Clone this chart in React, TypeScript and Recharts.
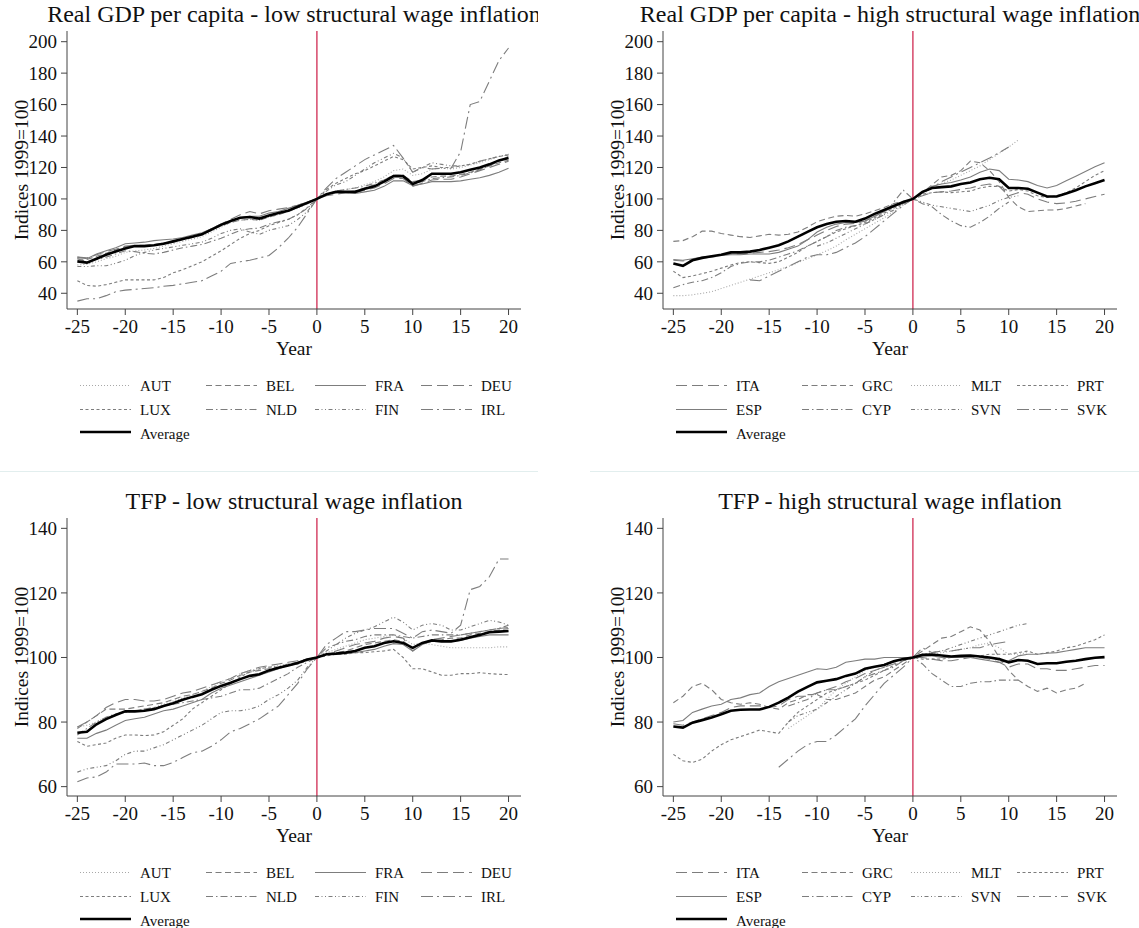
import React from "react"
import { LineChart, Line, XAxis, YAxis, ReferenceLine } from "recharts"

// x categories: years relative to 1999
const years = [
  -25, -24, -23, -22, -21, -20, -19, -18, -17, -16, -15, -14, -13, -12, -11, -10, -9, -8, -7, -6, -5, -4, -3, -2, -1,
  0, 1, 2, 3, 4, 5, 6, 7, 8, 9, 10, 11, 12, 13, 14, 15, 16, 17, 18, 19, 20,
]

const xTicks = [-25, -20, -15, -10, -5, 0, 5, 10, 15, 20]
const gdpTicks = [40, 60, 80, 100, 120, 140, 160, 180, 200]
const tfpTicks = [60, 80, 100, 120, 140]

// ---- Real GDP per capita, low structural wage inflation ----
const gdpLowAUT = [
  58, 58.5, 60, 62, 63.5, 66, 67, 67.5, 68.5, 70, 71.5, 73, 74.5, 76, 79, 82, 85, 86.5, 87, 86.5, 88.5, 90, 92, 94, 97,
  100, 103, 105, 106, 107, 109, 111, 114, 118, 119, 115, 116, 119, 119.5, 119, 120, 121.5, 123, 125, 127, 128.5,
]
const gdpLowBEL = [
  62, 61.5, 63.5, 65.5, 67.5, 69.5, 70, 70, 70.5, 71.5, 72.5, 74, 75.5, 77, 80, 83, 85, 86.5, 87, 86.5, 88.5, 90, 92, 94.5, 97,
  100, 103, 104, 104.5, 105, 107, 109, 112, 115, 115, 111, 112, 114, 114.5, 114.5, 115.5, 117, 119, 121, 123, 124.5,
]
const gdpLowFRA = [
  63, 62, 65, 67, 69, 71.5, 72, 72.5, 73.5, 74, 74.5, 75.5, 77, 78.5, 81, 84, 86, 88, 89, 89, 91, 92, 94, 96, 98,
  100, 102.5, 104, 104, 103.5, 104.5, 105.5, 108, 111.5, 111.5, 108.5, 109.5, 111, 111, 111, 111.5, 112.5, 113.5, 115, 117, 119.5,
]
const gdpLowDEU = [
  63, 62.5, 64.5, 66.5, 68, 70, 70.5, 70.5, 71, 72, 73, 74.5, 76, 78, 81, 84, 87, 90, 92, 90.5, 92.5, 93.5, 94.5, 96, 98,
  100, 102, 103, 104, 104, 105.5, 107, 109.5, 113, 113, 108, 110, 112, 112.5, 112.5, 114, 116, 118, 120, 122, 124,
]
const gdpLowLUX = [
  48, 45, 44.5, 45.5, 47, 48.5, 48.5, 48.5, 48.5, 50, 53, 55, 57.5, 60, 63.5, 67, 71, 75, 78, 80, 83, 85, 87, 90, 94.5,
  100, 106, 110, 113, 116, 118, 121, 124, 127, 125, 119, 120, 121, 120, 120, 121, 122, 124, 125.5, 127, 128,
]
const gdpLowNLD = [
  62, 60, 61.5, 63, 65, 67, 66.5, 65.5, 65, 66, 67.5, 69, 70, 71, 73, 75, 77.5, 80, 81, 81.5, 84, 85.5, 87, 90, 94,
  100, 103, 105, 106, 107, 108, 110, 112, 115, 115, 110, 111, 113, 113.5, 114, 115, 116.5, 118.5, 121, 124, 127,
]
const gdpLowFIN = [
  57, 57, 57.5, 57.5, 59, 61, 64, 66, 67.5, 68.5, 69.5, 70.5, 71.5, 72.5, 75, 78, 80, 81, 79, 77.5, 80, 81.5, 83, 87, 92,
  100, 105, 109, 111, 115, 119, 123, 126, 129, 126, 117, 120, 123, 122, 121, 121, 122, 124, 125.5, 127, 128,
]
const gdpLowIRL = [
  35, 36.5, 36.5, 38.5, 41, 42, 42.5, 43, 43.5, 44.5, 45, 46, 47, 48, 51, 54, 59, 60, 61, 62.5, 64, 69, 75, 82, 91,
  100, 107, 113, 117, 121, 125, 128, 131, 134, 126, 117, 120, 119, 119.5, 119.5, 130, 160, 162, 175, 188, 196,
]
const gdpLowAverage = [
  60.3, 59.5, 62, 64.5, 66.5, 68.5, 70, 70, 70.5, 71.5, 73, 74.5, 76, 77.5, 80.5, 83.5, 86, 88, 88.5, 87.5, 89.5, 91, 92.5, 95, 97.5,
  100, 103, 104.5, 104.5, 104.5, 106.5, 108, 111, 114.5, 114.5, 109.5, 112, 116, 116, 116, 117, 118.5, 120, 122, 124.5, 126,
]

// ---- Real GDP per capita, high structural wage inflation ----
const gdpHighITA = [
  61, 60.5, 61.5, 62.5, 63, 64, 65, 65, 65.5, 66, 66.5, 67.5, 69, 71, 74, 77, 80, 82.5, 84, 84.5, 86, 89, 92, 95, 97.5,
  100, 102, 104, 104.5, 105, 106, 107, 108.5, 109.5, 108, 102, 104, 103, 100, 98, 97, 97.5, 98.5, 100, 101.5, 103,
]
const gdpHighGRC = [
  73, 73.5, 76, 79.5, 79.5, 78, 77, 76, 75.5, 76.5, 77.5, 77, 77.5, 79, 82, 85.5, 87.5, 89, 89.5, 89, 90.5, 92.5, 94.5, 97, 98.5,
  100, 104, 109, 114, 115, 118, 124, 123, 118, 111, 101, 95, 92, 92.5, 93, 93, 94, 95.5, 97, null, null,
]
const gdpHighMLT = [
  38.5, 38.5, 39, 40, 41, 43, 45, 47, 49, 51, 53, 55, 57, 59.5, 62, 64.5, 67, 70, 74, 77.5, 81, 84.5, 88, 92, 96,
  100, 103, 107, 110, 112, 115, 118, 121, 125, 129, 133, 137.5, null, null, null, null, null, null, null, null, null,
]
const gdpHighPRT = [
  54, 50, 51, 52.5, 54, 56, 58, 59.5, 60, 59.5, 59, 60, 63, 66, 70, 73, 76, 79, 81, 83, 85, 88, 91, 94, 97,
  100, 103, 104, 104.5, 104, 104.5, 105, 107, 108, 108, 105, 106, 105, 102, 101, 102, 104, 107, 111, 115, 118,
]
const gdpHighESP = [
  61.5, 61, 62, 63, 63.5, 64, 64.5, 64.5, 65, 65, 65, 66, 68, 70, 74, 79, 82, 84, 85, 85, 86, 89, 92, 95, 97.5,
  100, 104, 108, 109.5, 110.5, 112, 114, 117, 119, 118, 112.5, 112, 111, 108.5, 107, 108.5, 111.5, 114.5, 117.5, 120.5, 123,
]
const gdpHighCYP = [
  43.5, 45.5, 47, 48, 50, 53, 57, 59, 60, 60, 61, 63, 65, 67, 70, 73, 76, 80, 82, 83, 84, 87, 90, 98, 105.5,
  100, 97, 95, 90, 86, 83, 82, 85, 89, 94, 98, null, null, null, null, null, null, null, null, null, null,
]
const gdpHighSVN = [
  null, null, null, null, null, null, null, null, null, null, null, null, null, null, null, 70, 72, 75, 78, 81, 84, 87, 90, 93, 97,
  100, 98, 96, 95, 94, 93, 92, 94, 96, 99, 101, 102, null, null, null, null, null, null, null, null, null,
]
const gdpHighSVK = [
  null, null, null, null, null, null, null, null, 48.5, 48, 51, 54, 57, 60, 63, 64.5, 64.5, 66, 69, 72, 76, 81, 86, 91, 96,
  100, 104, 107, 111, 114, 117, 120, 123, 126, 129.5, 133, null, null, null, null, null, null, null, null, null, null,
]
const gdpHighAverage = [
  59, 57.5, 61, 62.5, 63.5, 64.5, 66, 66, 66.5, 67.5, 69, 70.5, 73, 76, 79, 82, 84, 85.5, 86, 85.5, 87.5, 90.5, 93, 95.5, 98,
  100, 104.5, 107, 107.5, 108, 109.5, 110.5, 112.5, 113.5, 112.5, 107, 107, 106.5, 104, 101.5, 101.5, 103.5, 105.5, 108, 110, 112,
]

// ---- TFP, low structural wage inflation ----
const tfpLowAUT = [
  78.5, 79, 80, 81.5, 82.5, 83, 83.5, 84, 84.5, 85.5, 86.5, 87.5, 88.5, 89.5, 91, 92.5, 93.5, 95, 96, 96.5, 97, 97.5, 98, 98.5, 99.5,
  100, 101.5, 102.5, 103.5, 104.5, 105.5, 106, 106.5, 107, 106, 104, 104.5, 104, 103.5, 103, 103, 103, 103, 103, 103.3, 103.3,
]
const tfpLowBEL = [
  78, 80, 82, 84, 84, 84, 84.5, 85, 85.5, 86, 87, 88, 88.5, 89.5, 90.5, 92, 93, 94.5, 95.5, 96, 96.5, 97, 98, 98.5, 99.3,
  100, 101, 101.5, 102, 103, 104, 104.5, 105, 105.5, 105, 103, 104.5, 105, 105.5, 106, 106, 107, 107.5, 108, 108.5, 109,
]
const tfpLowFRA = [
  75, 75, 76.5, 77.5, 79, 80.5, 81, 81.5, 82.5, 83.5, 84, 85, 86, 87, 89, 90.5, 91.5, 92.5, 93.5, 94.5, 95.5, 96.5, 97.5, 98.5, 99.3,
  100, 101, 101, 101.3, 101.5, 102, 102.5, 103.5, 104.3, 104, 102, 104, 105, 105, 105, 105.3, 106, 106.5, 107, 107, 107,
]
const tfpLowDEU = [
  78.5, 80, 82, 84.5, 86, 87, 87, 86.5, 86.5, 87, 88, 89, 89.5, 90.5, 91.5, 92.5, 93.5, 95, 96, 97, 97.5, 98, 98.5, 99, 99.5,
  100, 101, 102, 103, 104, 104.5, 105, 106, 106.5, 106, 102, 104.5, 105.5, 106, 106.5, 107, 107.5, 108, 108.5, 109, 109.3,
]
const tfpLowLUX = [
  74, 72.5, 73, 73.5, 75, 76, 76, 75.8, 76, 77, 79, 81, 84, 86, 88, 90, 92, 94, 95.5, 96.5, 97, 97, 97.5, 98, 99,
  100, 100.5, 101, 101, 101.5, 101.5, 101.8, 102, 102.5, 100, 96.5, 96.5, 95.5, 94.5, 94.5, 95, 95, 95.3, 95, 94.8, 94.7,
]
const tfpLowNLD = [
  76, 78, 80, 81.5, 82.5, 83, 83.5, 84, 84.5, 85, 85.5, 86, 86.5, 87, 87.5, 88, 89, 90, 90, 90.5, 92, 93.5, 95, 97, 98.5,
  100, 103, 104, 105, 105.5, 106.5, 107, 107, 107, 106.5, 106, 106.5, 107, 107, 107, 107, 107.5, 108, 108.5, 109, 110,
]
const tfpLowFIN = [
  64.5, 65.5, 66, 66.5, 68, 70, 71, 71, 72, 73, 74.5, 76, 77.5, 79, 81, 83, 83.5, 83.5, 84, 85, 87, 88.5, 90.5, 93, 97,
  100, 102, 104, 106, 107.5, 108.5, 109.5, 111, 112.5, 111, 108.5, 110, 110.5, 110, 108.5, 108.5, 109.5, 110.5, 111.5, 111, 110,
]
const tfpLowIRL = [
  61.5, 62.7, 63, 64.5, 67, 67, 67, 67.3, 66.5, 66.5, 67.5, 69, 70.5, 71, 72.5, 74.5, 77, 78, 79.5, 81, 83, 85, 88.5, 92, 96.5,
  100, 104, 106, 108, 108, 108.5, 109, 109, 109, 107.5, 106, 108, 108.5, 108, 107.5, 110, 121, 122, 125, 130.5, 130.5,
]
const tfpLowAverage = [
  76.7, 77, 79.3, 80.9, 82.2, 83.3, 83.3, 83.5, 84, 85, 85.8, 86.9, 87.8, 88.6, 90, 91.2, 92.2, 93.3, 94.3, 94.8, 96, 96.8, 97.5, 98.3, 99.4,
  100, 101, 101.2, 101.5, 102, 103, 103.5, 104.5, 105, 104.5, 103, 104.5, 105.3, 105, 105, 105.5, 106.3, 107, 107.8, 108, 108.2,
]

// ---- TFP, high structural wage inflation ----
const tfpHighITA = [
  79.5, 79, 80, 81, 82, 83, 84.5, 85, 85, 85, 84.5, 85, 87, 88, 88, 89, 90, 91, 92.5, 93.5, 95, 96, 97, 98, 99,
  100, 100, 99.5, 99, 99, 99.5, 100, 100, 99.5, 98.5, 97, 98, 98, 96.5, 96.5, 96, 96, 96.5, 97, 97.5, 97.5,
]
const tfpHighGRC = [
  86, 88, 91, 92, 90, 87, 86, 85.5, 86, 85.5, 84.5, 84, 86, 87, 88.5, 88.5, 87, 87, 88, 89, 91, 93, 94, 96, 98,
  100, 102, 104, 106, 106.5, 108, 109.5, 108.5, 105, 100, 96, 93, 91, 89.5, 90.5, 89, 90, 90.5, 92, null, null,
]
const tfpHighMLT = [
  null, null, null, null, null, null, null, null, null, null, null, null, 78, 80, 82, 84, 87, 90, 92, 94, 96, 97, 98, 99, 99.5,
  100, 100.5, 101, 101.5, 102, 102.5, 103, 104, 104.5, 103, 101, 101, 101.5, null, null, null, null, null, null, null, null,
]
const tfpHighPRT = [
  70, 68, 67.5, 68.5, 71, 73, 74.5, 75.5, 76.5, 77.5, 77, 76.5, 80, 83, 85, 87, 89, 90, 91, 92, 93, 94.5, 96, 97.5, 99,
  100, 99.5, 99.5, 99.5, 100, 100, 100, 100.5, 101, 101, 101, 101.5, 102, 101, 101.5, 102, 103, 103.5, 104.5, 105.5, 107,
]
const tfpHighESP = [
  80, 80.5, 83, 84, 85, 85.5, 87, 87.5, 88.5, 89, 91, 92.5, 93.5, 94.5, 95.5, 96.5, 96.3, 97, 98.5, 99, 99.5, 99.5, 100, 100, 100,
  100, 100.5, 100.5, 100, 100, 100, 100, 99.5, 99, 98.5, 99, 100.5, 101, 101, 101.3, 101.5, 102, 102.5, 103, 103, 103,
]
const tfpHighCYP = [
  null, null, null, null, null, null, null, null, null, null, null, null, 85, 86, 87, 89, 90, 90, 91, 92, 94, 95, 96, 97, 99,
  100, 98, 95, 93, 91, 91, 92, 92.5, 92.5, 93, 93, 93, null, null, null, null, null, null, null, null, null,
]
const tfpHighSVN = [
  null, null, null, null, null, null, null, null, null, null, null, null, 80, 82, 83, 84, 86, 88, 90, 92, 94, 96, 97, 98.5, 99.5,
  100, 101, 101.5, 102, 103, 104, 105, 106, 107, 108, 109, 110, 110.5, null, null, null, null, null, null, null, null,
]
const tfpHighSVK = [
  null, null, null, null, null, null, null, null, null, null, null, 66, 68.5, 71, 73, 74, 74, 76, 78.5, 81, 85, 88.5, 92, 94.5, 97,
  100, 103, 101.5, 102, 102, 102.5, 103, 103, 104, 104.5, 105, null, null, null, null, null, null, null, null, null, null,
]
const tfpHighAverage = [
  78.6, 78.3, 79.8, 80.6, 81.4, 82.4, 83.5, 83.8, 83.9, 83.9, 84.7, 86, 87.6, 89.4, 90.9, 92.3, 92.8, 93.3, 94.3, 95, 96.5, 97.1, 97.7, 98.8, 99.5,
  100, 100.8, 100.9, 100.6, 100.3, 100.5, 100.6, 100.3, 100, 99.5, 98.5, 99.2, 99, 98, 98.2, 98.2, 98.7, 99, 99.5, 99.9, 100.1,
]

type LineStyle = { dash?: string; color: string; width: number }

const GREY = "#7d7d7d"
const SOLID: LineStyle = { color: GREY, width: 1.1 }
const DASH: LineStyle = { dash: "6 3.5", color: GREY, width: 1.1 }
const DOT: LineStyle = { dash: "1 2", color: "#a8a8a8", width: 1.1 }
const LONGDASH: LineStyle = { dash: "11 5", color: GREY, width: 1.1 }
const SHORTDASH: LineStyle = { dash: "3 2.5", color: GREY, width: 1.1 }
const DASHDOT: LineStyle = { dash: "7 3 1.5 3", color: GREY, width: 1.1 }
const DASHDOTDOT: LineStyle = { dash: "4 2.5 1 2.5 1 2.5", color: GREY, width: 1.1 }
const LONGDASHDOT: LineStyle = { dash: "12 4 2 4", color: GREY, width: 1.1 }
const AVERAGE: LineStyle = { color: "#000", width: 2.6 }

type Series = { key: string; values: (number | null)[]; style: LineStyle }

const FONT = "'Liberation Serif', 'Times New Roman', serif"

function buildRows(series: Series[]) {
  return years.map((year, i) => {
    const row: Record<string, number | null> = { year }
    series.forEach((s) => {
      row[s.key] = s.values[i]
    })
    return row
  })
}

// legend layout, in panel coordinates
const legendSampleX = [80, 206, 315, 421]
const legendLabelX = [140, 266, 375, 481]
const legendRowY = [385.5, 409.5, 433.5]

interface PanelProps {
  left: number
  top: number
  width: number
  title: string
  series: Series[]
  domain: [number, number]
  ticks: number[]
}

function Panel({ left, top, width, title, series, domain, ticks }: PanelProps) {
  const data = buildRows(series)
  const countries = series.filter((s) => s.key !== "Average")
  const average = series.find((s) => s.key === "Average")!
  return (
    <div style={{ position: "absolute", left, top, width, height: 470, overflow: "hidden" }}>
      <div style={{ position: "absolute", left: 0, top: 0 }}>
        <LineChart width={540} height={355} data={data} margin={{ top: 31, right: 19, bottom: 0, left: 0 }}>
          <XAxis
            dataKey="year"
            type="number"
            domain={[-26.08, 21.3]}
            allowDataOverflow
            ticks={xTicks}
            interval={0}
            height={46}
            tickSize={6}
            tickMargin={5}
            tick={{ fontSize: 19, fill: "#111", fontFamily: FONT }}
            axisLine={{ stroke: "#444" }}
            tickLine={{ stroke: "#444" }}
          />
          <YAxis
            type="number"
            domain={domain}
            allowDataOverflow
            ticks={ticks}
            interval={0}
            width={67}
            tickSize={6}
            tickMargin={4}
            tick={{ fontSize: 19, fill: "#111", fontFamily: FONT }}
            axisLine={{ stroke: "#444" }}
            tickLine={{ stroke: "#444" }}
          />
          <ReferenceLine x={0} stroke="#cf2a52" strokeWidth={1.3} ifOverflow="visible" />
          {series.map((s) => (
            <Line
              key={s.key}
              type="linear"
              dataKey={s.key}
              stroke={s.style.color}
              strokeWidth={s.style.width}
              strokeDasharray={s.style.dash}
              dot={false}
              activeDot={false}
              connectNulls={false}
              isAnimationActive={false}
            />
          ))}
        </LineChart>
      </div>
      <svg
        width={width}
        height={470}
        style={{ position: "absolute", left: 0, top: 0, pointerEvents: "none", fontFamily: FONT }}
      >
        <text x={294} y={22} textAnchor="middle" fontSize={24} fill="#111">
          {title}
        </text>
        <text transform="translate(27.5,170) rotate(-90)" textAnchor="middle" fontSize={19.5} fill="#111">
          Indices 1999=100
        </text>
        <text x={294} y={355} textAnchor="middle" fontSize={19.5} fill="#111">
          Year
        </text>
        {countries.map((s, i) => {
          const col = i % 4
          const row = Math.floor(i / 4)
          const y = legendRowY[row]
          return (
            <g key={s.key}>
              <line
                x1={legendSampleX[col]}
                x2={legendSampleX[col] + 51}
                y1={y}
                y2={y}
                stroke={s.style.color}
                strokeWidth={s.style.width}
                strokeDasharray={s.style.dash}
              />
              <text x={legendLabelX[col]} y={y + 5.3} fontSize={15} fill="#111">
                {s.key}
              </text>
            </g>
          )
        })}
        <line
          x1={legendSampleX[0]}
          x2={legendSampleX[0] + 51}
          y1={legendRowY[2] - 1.5}
          y2={legendRowY[2] - 1.5}
          stroke={average.style.color}
          strokeWidth={average.style.width}
        />
        <text x={legendLabelX[0]} y={legendRowY[2] + 5} fontSize={15} fill="#111">
          {average.key}
        </text>
      </svg>
    </div>
  )
}

const gdpLowSeries: Series[] = [
  { key: "AUT", values: gdpLowAUT, style: DOT },
  { key: "BEL", values: gdpLowBEL, style: DASH },
  { key: "FRA", values: gdpLowFRA, style: SOLID },
  { key: "DEU", values: gdpLowDEU, style: LONGDASH },
  { key: "LUX", values: gdpLowLUX, style: SHORTDASH },
  { key: "NLD", values: gdpLowNLD, style: DASHDOT },
  { key: "FIN", values: gdpLowFIN, style: DASHDOTDOT },
  { key: "IRL", values: gdpLowIRL, style: LONGDASHDOT },
  { key: "Average", values: gdpLowAverage, style: AVERAGE },
]

const gdpHighSeries: Series[] = [
  { key: "ITA", values: gdpHighITA, style: LONGDASH },
  { key: "GRC", values: gdpHighGRC, style: DASH },
  { key: "MLT", values: gdpHighMLT, style: DOT },
  { key: "PRT", values: gdpHighPRT, style: SHORTDASH },
  { key: "ESP", values: gdpHighESP, style: SOLID },
  { key: "CYP", values: gdpHighCYP, style: DASHDOT },
  { key: "SVN", values: gdpHighSVN, style: DASHDOTDOT },
  { key: "SVK", values: gdpHighSVK, style: LONGDASHDOT },
  { key: "Average", values: gdpHighAverage, style: AVERAGE },
]

const tfpLowSeries: Series[] = [
  { key: "AUT", values: tfpLowAUT, style: DOT },
  { key: "BEL", values: tfpLowBEL, style: DASH },
  { key: "FRA", values: tfpLowFRA, style: SOLID },
  { key: "DEU", values: tfpLowDEU, style: LONGDASH },
  { key: "LUX", values: tfpLowLUX, style: SHORTDASH },
  { key: "NLD", values: tfpLowNLD, style: DASHDOT },
  { key: "FIN", values: tfpLowFIN, style: DASHDOTDOT },
  { key: "IRL", values: tfpLowIRL, style: LONGDASHDOT },
  { key: "Average", values: tfpLowAverage, style: AVERAGE },
]

const tfpHighSeries: Series[] = [
  { key: "ITA", values: tfpHighITA, style: LONGDASH },
  { key: "GRC", values: tfpHighGRC, style: DASH },
  { key: "MLT", values: tfpHighMLT, style: DOT },
  { key: "PRT", values: tfpHighPRT, style: SHORTDASH },
  { key: "ESP", values: tfpHighESP, style: SOLID },
  { key: "CYP", values: tfpHighCYP, style: DASHDOT },
  { key: "SVN", values: tfpHighSVN, style: DASHDOTDOT },
  { key: "SVK", values: tfpHighSVK, style: LONGDASHDOT },
  { key: "Average", values: tfpHighAverage, style: AVERAGE },
]

export default function App() {
  return (
    <div
      style={{
        position: "absolute",
        left: 0,
        top: 0,
        width: 1139,
        height: 928,
        background: "#fff",
        overflow: "hidden",
        fontFamily: FONT,
      }}
    >
      <Panel
        left={0}
        top={0}
        width={538}
        title="Real GDP per capita - low structural wage inflation"
        series={gdpLowSeries}
        domain={[30, 206.8]}
        ticks={gdpTicks}
      />
      <Panel
        left={596}
        top={0}
        width={543}
        title="Real GDP per capita - high structural wage inflation"
        series={gdpHighSeries}
        domain={[30, 206.8]}
        ticks={gdpTicks}
      />
      <div style={{ position: "absolute", left: 0, top: 471, width: 538, height: 1, background: "#e2eeee" }} />
      <div style={{ position: "absolute", left: 590, top: 471, width: 549, height: 1, background: "#e2eeee" }} />
      <Panel
        left={0}
        top={486.5}
        width={538}
        title="TFP - low structural wage inflation"
        series={tfpLowSeries}
        domain={[57.1, 143.2]}
        ticks={tfpTicks}
      />
      <Panel
        left={596}
        top={486.5}
        width={543}
        title="TFP - high structural wage inflation"
        series={tfpHighSeries}
        domain={[57.1, 143.2]}
        ticks={tfpTicks}
      />
    </div>
  )
}
